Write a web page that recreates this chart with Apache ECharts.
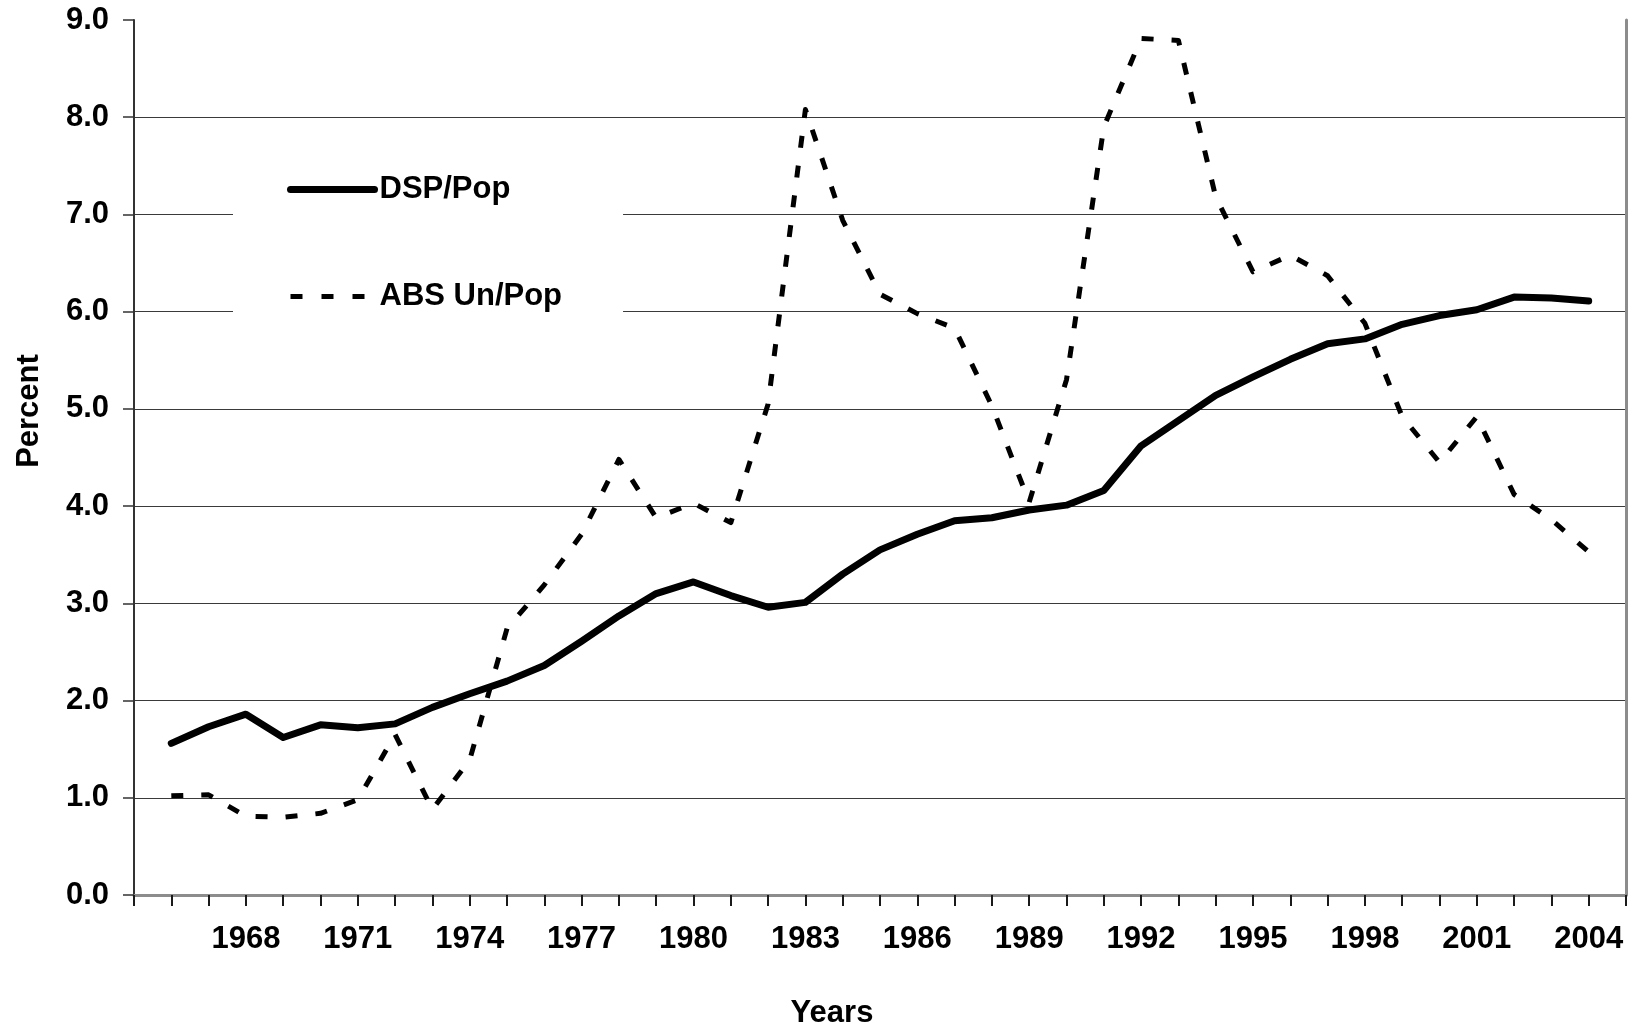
<!DOCTYPE html>
<html>
<head>
<meta charset="utf-8">
<script src="https://cdn.jsdelivr.net/npm/echarts@6/dist/echarts.min.js"></script>
<style>
html,body{margin:0;padding:0;background:#fff;}
#chart{width:1633px;height:1033px;}
</style>
</head>
<body>
<div id="chart"></div>
<script>
// ---- data ----
const years = [1966,1967,1968,1969,1970,1971,1972,1973,1974,1975,1976,1977,1978,1979,1980,1981,1982,1983,1984,1985,1986,1987,1988,1989,1990,1991,1992,1993,1994,1995,1996,1997,1998,1999,2000,2001,2002,2003,2004];
const dspPop = [1.56,1.73,1.86,1.62,1.75,1.72,1.76,1.93,2.07,2.20,2.36,2.61,2.87,3.10,3.22,3.08,2.96,3.01,3.30,3.55,3.71,3.85,3.88,3.96,4.01,4.16,4.62,4.88,5.14,5.33,5.51,5.67,5.72,5.87,5.96,6.02,6.15,6.14,6.11];
const absUnPop = [1.02,1.03,0.81,0.80,0.84,0.98,1.65,0.88,1.39,2.74,3.19,3.71,4.48,3.88,4.03,3.83,5.05,8.08,6.94,6.18,5.98,5.83,5.03,4.04,5.30,7.90,8.81,8.79,7.18,6.41,6.58,6.37,5.88,4.92,4.45,4.92,4.12,3.86,3.53];
const xTickLabels = [1968,1971,1974,1977,1980,1983,1986,1989,1992,1995,1998,2001,2004];
const yTickLabels = ['0.0','1.0','2.0','3.0','4.0','5.0','6.0','7.0','8.0','9.0'];
const seriesNames = ['DSP/Pop','ABS Un/Pop'];
const xTitle = 'Years';
const yTitle = 'Percent';

const FONT = '"Liberation Sans", Arial, Helvetica, sans-serif';
const pairs = vals => years.map((y, i) => [y, vals[i]]);

const chart = echarts.init(document.getElementById('chart'), null, {renderer: 'canvas'});
chart.setOption({
  animation: false,
  backgroundColor: '#ffffff',
  grid: {left: 134, right: 7, top: 20, bottom: 138, containLabel: false},
  xAxis: [{
    type: 'value', min: 1965, max: 2005, interval: 1,
    axisLine: {show: true, lineStyle: {color: '#1a1a1a', width: 2}},
    axisTick: {show: true, inside: false, length: 11, lineStyle: {color: '#1a1a1a', width: 2}},
    splitLine: {show: false},
    axisLabel: {
      margin: 29, color: '#000', fontSize: 31, fontWeight: 'bold', fontFamily: FONT,
      showMinLabel: true, showMaxLabel: true,
      formatter: v => xTickLabels.indexOf(Math.round(v)) >= 0 ? String(Math.round(v)) : ''
    }
  }, {
    type: 'value', min: 1965, max: 2005, position: 'top',
    axisLine: {show: true, lineStyle: {color: '#8c8c8c', width: 3}},
    axisTick: {show: false}, axisLabel: {show: false}, splitLine: {show: false}
  }],
  yAxis: [{
    type: 'value', min: 0, max: 9, interval: 1,
    axisLine: {show: true, lineStyle: {color: '#333', width: 2}},
    axisTick: {show: true, inside: false, length: 11, lineStyle: {color: '#333', width: 1.5}},
    splitLine: {show: true, showMaxLine: false, lineStyle: {color: '#3a3a3a', width: 1}},
    axisLabel: {
      margin: 25, color: '#000', fontSize: 31, fontWeight: 'bold', fontFamily: FONT,
      formatter: v => yTickLabels[Math.round(v)]
    }
  }, {
    type: 'value', min: 0, max: 9, position: 'right',
    axisLine: {show: true, lineStyle: {color: '#8c8c8c', width: 3}},
    axisTick: {show: false}, axisLabel: {show: false}, splitLine: {show: false}
  }],
  legend: {
    orient: 'vertical',
    left: 233, top: 134,
    padding: [40, 61, 57, 54],
    itemGap: 76,
    itemWidth: 84,
    itemHeight: 14,
    backgroundColor: '#ffffff',
    borderWidth: 0,
    itemStyle: {opacity: 0},
    textStyle: {color: '#000', fontSize: 31, fontWeight: 'bold', fontFamily: FONT, padding: [0,0,0,0]},
    data: [
      {name: seriesNames[0], lineStyle: {width: 7, type: 'solid', cap: 'round'}},
      {name: seriesNames[1], lineStyle: {width: 5, type: [12, 19], cap: 'butt'}}
    ]
  },
  graphic: [
    {type: 'text', x: 29, y: 411, rotation: Math.PI / 2,
     style: {text: yTitle, fill: '#000', font: 'bold 31px ' + FONT, align: 'center', verticalAlign: 'middle'}},
    {type: 'text', x: 832, y: 1013,
     style: {text: xTitle, fill: '#000', font: 'bold 31px ' + FONT, align: 'center', verticalAlign: 'middle'}}
  ],
  series: [{
    name: seriesNames[0], type: 'line', symbol: 'none', showSymbol: false,
    data: pairs(dspPop),
    lineStyle: {color: '#000', width: 7, type: 'solid', cap: 'round', join: 'round'},
    itemStyle: {color: '#000'},
    z: 3
  }, {
    name: seriesNames[1], type: 'line', symbol: 'none', showSymbol: false,
    data: pairs(absUnPop),
    lineStyle: {color: '#000', width: 5, type: [12, 18], cap: 'butt', join: 'round'},
    itemStyle: {color: '#000'},
    z: 4
  }]
});
</script>
</body>
</html>
